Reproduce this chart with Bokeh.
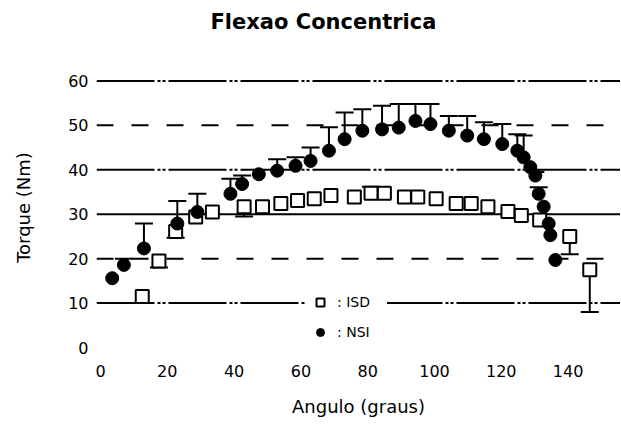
from bokeh.plotting import figure
from bokeh.models import Span, Whisker, ColumnDataSource, TeeHead, FixedTicker, Title
from bokeh.embed import file_html
from bokeh.resources import INLINE

title_text = "Flexao Concentrica"
x_label = "Angulo (graus)"
y_label = "Torque (Nm)"
x_ticks = [0, 20, 40, 60, 80, 100, 120, 140]
y_ticks = [0, 10, 20, 30, 40, 50, 60]

# horizontal reference lines
grid_levels = [10, 20, 30, 40, 50, 60]
grid_dashes = ["58 3 3 2 3 3", "17 18", "solid", "58 3 3 2 3 3", "17 18", "58 3 3 2 3 3"]

# ISD (open squares)
isd_label = ": ISD"
isd_x = [12.5, 17.5, 22.5, 28.5, 33.5, 43, 48.5, 54, 59, 64, 69, 76, 81, 85, 91, 95,
         100.5, 106.5, 111, 116, 122, 126, 131.5, 140.5, 146.5]
isd_y = [11.5, 19.5, 26.1, 29.4, 30.5, 31.7, 31.7, 32.4, 33.1, 33.5, 34.2, 33.9, 34.7,
         34.7, 33.9, 33.9, 33.5, 32.4, 32.4, 31.7, 30.6, 29.7, 28.7, 25.0, 17.5]
isd_lo = [11.5, 18.0, 24.7, 29.4, 30.5, 29.5, 31.7, 32.4, 33.1, 33.5, 34.2, 33.9, 34.7,
          34.7, 33.9, 33.9, 33.5, 32.4, 32.4, 31.7, 30.6, 29.7, 28.7, 21.0, 8.0]
isd_hi = [11.5, 19.5, 26.1, 29.4, 30.5, 31.7, 31.7, 32.4, 33.1, 33.5, 34.2, 33.9, 36.2,
          34.7, 33.9, 33.9, 33.5, 32.4, 32.4, 31.7, 30.6, 29.7, 28.7, 25.0, 17.5]

# NSI (filled circles)
nsi_label = ": NSI"
nsi_x = [3.5, 7, 13, 23, 29, 38.9, 42.4, 47.4, 52.9, 58.4, 62.9, 68.4, 73.1, 78.4, 84.3,
         89.3, 94.3, 98.8, 104.3, 109.8, 114.8, 120.3, 124.8, 126.7, 128.7, 130.2, 131.2,
         132.7, 134.2, 134.7, 136.2]
nsi_y = [15.6, 18.6, 22.3, 27.9, 30.5, 34.6, 36.8, 39.0, 39.8, 40.9, 42.0, 44.3, 46.9,
         48.8, 49.1, 49.5, 51.0, 50.3, 48.8, 47.7, 46.9, 45.8, 44.3, 42.8, 40.6, 38.7,
         34.6, 31.7, 27.9, 25.3, 19.7]
nsi_hi = [15.6, 20.0, 27.9, 33.0, 34.6, 38.0, 38.7, 39.0, 42.4, 42.8, 45.0, 49.6, 52.9,
          53.6, 54.4, 54.8, 54.8, 54.8, 52.1, 52.1, 50.7, 50.3, 48.0, 47.7, 40.6, 39.5,
          36.1, 31.7, 27.9, 25.3, 19.7]

FONT = "DejaVu Sans"

p = figure(width=620, height=419, output_backend="svg", toolbar_location=None,
           x_range=(-1.2, 155.7), y_range=(-1.57, 64.6),
           min_border_left=96, min_border_right=0, min_border_top=60, min_border_bottom=64)
p.outline_line_color = None
p.xgrid.visible = False
p.ygrid.visible = False
p.background_fill_color = "white"

# spacer between frame and title, then the real title above it
p.add_layout(Title(text=" ", text_font=FONT, text_font_size="10px", standoff=14), "above")
p.add_layout(Title(text=title_text, align="left", offset=114, vertical_align="bottom",
                   standoff=0, text_font=FONT, text_font_size="21px",
                   text_font_style="bold", text_color="black"), "above")

for ax in (p.xaxis[0], p.yaxis[0]):
    ax.axis_line_color = None
    ax.major_tick_line_color = None
    ax.minor_tick_line_color = None
    ax.major_tick_out = 0
    ax.major_tick_in = 0
    ax.minor_tick_out = 0
    ax.major_label_text_font = FONT
    ax.major_label_text_font_size = "16px"
    ax.major_label_text_color = "black"
    ax.axis_label_text_font = FONT
    ax.axis_label_text_font_size = "18px"
    ax.axis_label_text_font_style = "normal"
    ax.axis_label_text_color = "black"

p.xaxis.ticker = FixedTicker(ticks=x_ticks)
p.yaxis.ticker = FixedTicker(ticks=y_ticks)
p.xaxis.axis_label = x_label
p.yaxis.axis_label = y_label
p.xaxis.major_label_standoff = 10
p.xaxis.axis_label_standoff = 16
p.yaxis.major_label_standoff = 8
p.yaxis.axis_label_standoff = 31

for lvl, dash in zip(grid_levels, grid_dashes):
    p.add_layout(Span(location=lvl, dimension="width", line_color="black",
                      line_width=2, line_dash=dash, level="underlay"))

# error bars
nsi_bar = [i for i in range(len(nsi_x)) if nsi_hi[i] > nsi_y[i]]
src_nsi_err = ColumnDataSource(dict(x=[nsi_x[i] for i in nsi_bar],
                                    y=[nsi_y[i] for i in nsi_bar],
                                    hi=[nsi_hi[i] for i in nsi_bar]))
p.add_layout(Whisker(source=src_nsi_err, base="x", lower="y", upper="hi",
                     dimension="height", line_color="black", line_width=2,
                     upper_head=TeeHead(size=18, line_width=2, line_color="black"),
                     lower_head=None, level="underlay"))

isd_dn = [i for i in range(len(isd_x)) if isd_lo[i] < isd_y[i]]
src_isd_dn = ColumnDataSource(dict(x=[isd_x[i] for i in isd_dn],
                                   y=[isd_y[i] for i in isd_dn],
                                   lo=[isd_lo[i] for i in isd_dn]))
p.add_layout(Whisker(source=src_isd_dn, base="x", lower="lo", upper="y",
                     dimension="height", line_color="black", line_width=2,
                     lower_head=TeeHead(size=18, line_width=2, line_color="black"),
                     upper_head=None, level="underlay"))

isd_up = [i for i in range(len(isd_x)) if isd_hi[i] > isd_y[i]]
src_isd_up = ColumnDataSource(dict(x=[isd_x[i] for i in isd_up],
                                   y=[isd_y[i] for i in isd_up],
                                   hi=[isd_hi[i] for i in isd_up]))
p.add_layout(Whisker(source=src_isd_up, base="x", lower="y", upper="hi",
                     dimension="height", line_color="black", line_width=2,
                     upper_head=TeeHead(size=18, line_width=2, line_color="black"),
                     lower_head=None, level="underlay"))

p.scatter(isd_x, isd_y, marker="square", size=13, fill_color="white",
          line_color="black", line_width=2, legend_label=isd_label)
p.scatter(nsi_x, nsi_y, marker="circle", size=13, fill_color="black",
          line_color="black", line_width=1, legend_label=nsi_label)

lg = p.legend[0]
lg.location = (209, 12)
lg.background_fill_color = "white"
lg.background_fill_alpha = 1
lg.border_line_color = None
lg.padding = 15
lg.margin = 0
lg.spacing = 10
lg.glyph_width = 30
lg.glyph_height = 20
lg.label_height = 20
lg.label_width = 50
lg.label_standoff = 2
lg.label_text_font = FONT
lg.label_text_font_size = "14px"
lg.label_text_color = "black"

open("out.html", "w").write(file_html(p, INLINE))
